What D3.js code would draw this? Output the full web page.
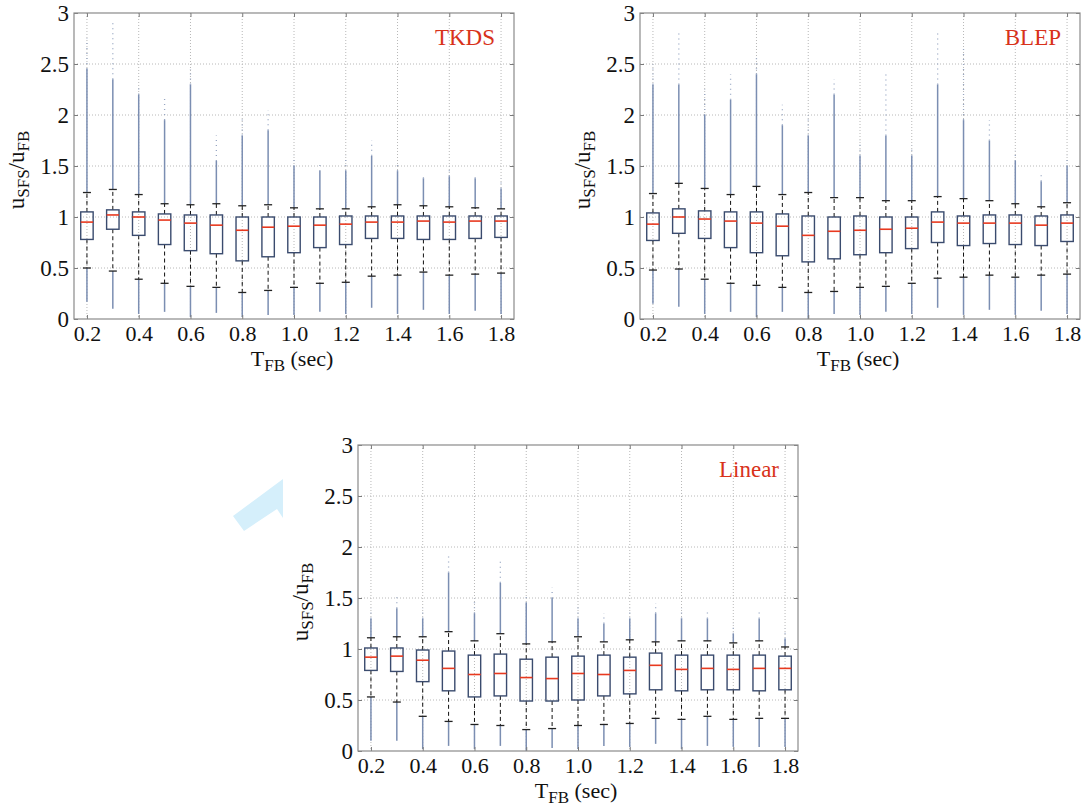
<html>
<head>
	<title>boxplots</title>
	<style>
		body { margin:0; padding:0; background:#fff; }
		svg { display:block; }
		svg text { font-family: "Liberation Serif", "Times New Roman", serif !important; fill:#111; }
		.tick line { stroke:#7a7a7a; }
		.grid line { stroke:#b8b8b8; stroke-width:1; stroke-dasharray:1,2; }
	</style>
</head>
<body>
	<svg width="1088" height="809"></svg>

	<script src="https://d3js.org/d3.v7.min.js"></script>
	<script>

		var categories = ["0.2","0.3","0.4","0.5","0.6","0.7","0.8","0.9","1.0","1.1","1.2","1.3","1.4","1.5","1.6","1.7","1.8"];
		var tickLabels = ["0.2","0.4","0.6","0.8","1.0","1.2","1.4","1.6","1.8"];
		var yTicks = [0, 0.5, 1, 1.5, 2, 2.5, 3];

		// TKDS
		var tkdsQ1  = [0.78,0.88,0.82,0.73,0.67,0.64,0.57,0.61,0.65,0.70,0.73,0.79,0.79,0.78,0.78,0.79,0.80];
		var tkdsMed = [0.95,1.02,1.00,0.97,0.94,0.92,0.87,0.90,0.91,0.92,0.93,0.95,0.95,0.96,0.95,0.96,0.96];
		var tkdsQ3  = [1.05,1.07,1.05,1.03,1.02,1.02,1.00,1.00,1.00,1.00,1.01,1.01,1.01,1.01,1.01,1.01,1.01];
		var tkdsLo  = [0.50,0.47,0.39,0.35,0.32,0.31,0.26,0.28,0.31,0.35,0.36,0.42,0.43,0.46,0.43,0.44,0.45];
		var tkdsHi  = [1.24,1.27,1.22,1.13,1.12,1.13,1.11,1.12,1.09,1.08,1.08,1.10,1.12,1.11,1.10,1.09,1.08];
		var tkdsMin = [0.17,0.10,0.05,0.07,0.02,0.06,0.02,0.04,0.04,0.07,0.05,0.11,0.05,0.09,0.05,0.08,0.05];
		var tkdsDense = [2.45,2.35,2.20,1.95,2.30,1.55,1.80,1.85,1.50,1.45,1.45,1.60,1.45,1.38,1.40,1.38,1.28];
		var tkdsMax = [2.75,2.90,2.27,2.16,2.45,1.80,1.97,2.05,1.60,1.55,1.60,1.75,1.55,1.43,1.50,1.43,1.38];

		// BLEP
		var blepQ1  = [0.77,0.84,0.79,0.70,0.65,0.62,0.56,0.59,0.63,0.65,0.69,0.75,0.72,0.74,0.73,0.72,0.76];
		var blepMed = [0.93,1.00,0.98,0.96,0.94,0.91,0.82,0.86,0.87,0.88,0.89,0.95,0.94,0.94,0.94,0.92,0.94];
		var blepQ3  = [1.04,1.08,1.06,1.05,1.05,1.03,1.01,1.00,1.01,1.00,1.00,1.05,1.01,1.02,1.02,1.01,1.02];
		var blepLo  = [0.48,0.49,0.39,0.35,0.33,0.31,0.26,0.27,0.31,0.32,0.35,0.40,0.41,0.43,0.41,0.43,0.44];
		var blepHi  = [1.23,1.33,1.28,1.22,1.30,1.22,1.24,1.19,1.19,1.16,1.16,1.20,1.18,1.16,1.13,1.10,1.14];
		var blepMin = [0.15,0.12,0.05,0.07,0.02,0.07,0.00,0.05,0.04,0.07,0.05,0.11,0.04,0.09,0.04,0.08,0.05];
		var blepDense = [2.30,2.30,2.00,2.15,2.40,1.90,1.80,2.20,1.60,1.80,1.60,2.30,1.95,1.75,1.55,1.35,1.50];
		var blepMax = [2.50,2.80,2.25,2.40,2.58,2.10,2.00,2.35,1.75,2.40,1.70,2.82,2.65,1.95,1.65,1.43,1.60];

		// Linear
		var linQ1  = [0.79,0.78,0.68,0.59,0.53,0.54,0.49,0.49,0.50,0.54,0.56,0.60,0.59,0.60,0.60,0.59,0.60];
		var linMed = [0.92,0.93,0.89,0.81,0.75,0.76,0.72,0.71,0.76,0.75,0.79,0.84,0.80,0.81,0.80,0.81,0.81];
		var linQ3  = [1.01,1.01,0.99,0.98,0.94,0.95,0.90,0.92,0.93,0.94,0.92,0.96,0.94,0.94,0.94,0.94,0.93];
		var linLo  = [0.53,0.48,0.34,0.29,0.26,0.25,0.21,0.22,0.25,0.26,0.27,0.32,0.31,0.34,0.31,0.32,0.32];
		var linHi  = [1.11,1.12,1.12,1.17,1.08,1.15,1.05,1.07,1.12,1.07,1.09,1.07,1.08,1.08,1.06,1.08,1.02];
		var linMin = [0.10,0.10,0.02,0.05,0.02,0.05,0.00,0.03,0.02,0.05,0.04,0.07,0.02,0.05,0.04,0.04,0.04];
		var linDense = [1.30,1.40,1.30,1.75,1.35,1.65,1.45,1.50,1.30,1.25,1.30,1.35,1.30,1.30,1.15,1.30,1.10];
		var linMax = [1.40,1.52,1.40,1.93,1.50,1.88,1.55,1.60,1.42,1.35,1.40,1.45,1.40,1.38,1.25,1.38,1.20];

		var panels = [
			{ name:"TKDS", left:74, top:13, q1:tkdsQ1, med:tkdsMed, q3:tkdsQ3, lo:tkdsLo, hi:tkdsHi, min:tkdsMin, dense:tkdsDense, max:tkdsMax },
			{ name:"BLEP", left:640, top:13, q1:blepQ1, med:blepMed, q3:blepQ3, lo:blepLo, hi:blepHi, min:blepMin, dense:blepDense, max:blepMax },
			{ name:"Linear", left:358, top:445, q1:linQ1, med:linMed, q3:linQ3, lo:linLo, hi:linHi, min:linMin, dense:linDense, max:linMax }
		];

		var W = 440, H = 306;
		var svg = d3.select("svg");

		// light blue arrow decoration
		svg.append("polygon")
			.attr("points", "233,516 283,479 283,518 277,509 244,531")
			.style("fill", "#d5effb");

		panels.forEach(drawPanel);

		function drawPanel(p) {
			var g = svg.append("g").attr("transform", "translate(" + p.left + "," + p.top + ")");

			var x = d3.scalePoint().domain(categories).range([0, W]).padding(0.5);
			var y = d3.scaleLinear().domain([0, 3]).range([H, 0]);

			// grid
			var grid = g.append("g").attr("class", "grid");
			grid.selectAll(".gy").data(yTicks.slice(1, -1)).enter().append("line")
				.attr("x1", 0).attr("x2", W)
				.attr("y1", function(d){ return y(d); }).attr("y2", function(d){ return y(d); });
			grid.selectAll(".gx").data(tickLabels).enter().append("line")
				.attr("y1", 0).attr("y2", H)
				.attr("x1", function(d){ return x(d); }).attr("x2", function(d){ return x(d); });

			var idx = d3.range(categories.length);
			var bw = x.step() * 0.48;
			var cap = x.step() * 0.31;

			// outliers: dense run and sparse tail
			g.selectAll(".ohi").data(idx).enter().append("line")
				.attr("x1", function(i){ return x(categories[i]); }).attr("x2", function(i){ return x(categories[i]); })
				.attr("y1", function(i){ return y(p.hi[i]); }).attr("y2", function(i){ return y(p.dense[i]); })
				.style("stroke", "#7b8eb2").style("stroke-width", 1.5);
			g.selectAll(".osp").data(idx).enter().append("line")
				.attr("x1", function(i){ return x(categories[i]); }).attr("x2", function(i){ return x(categories[i]); })
				.attr("y1", function(i){ return y(p.dense[i]); }).attr("y2", function(i){ return y(p.max[i]); })
				.style("stroke", "#97a6c2").style("stroke-width", 1.3).style("stroke-dasharray", "1,4");
			g.selectAll(".olo").data(idx).enter().append("line")
				.attr("x1", function(i){ return x(categories[i]); }).attr("x2", function(i){ return x(categories[i]); })
				.attr("y1", function(i){ return y(p.lo[i]); }).attr("y2", function(i){ return y(p.min[i]); })
				.style("stroke", "#7b8eb2").style("stroke-width", 1.5);

			// whiskers
			g.selectAll(".wu").data(idx).enter().append("line")
				.attr("x1", function(i){ return x(categories[i]); }).attr("x2", function(i){ return x(categories[i]); })
				.attr("y1", function(i){ return y(p.q3[i]); }).attr("y2", function(i){ return y(p.hi[i]); })
				.style("stroke", "#111").style("stroke-dasharray", "4,3");
			g.selectAll(".wl").data(idx).enter().append("line")
				.attr("x1", function(i){ return x(categories[i]); }).attr("x2", function(i){ return x(categories[i]); })
				.attr("y1", function(i){ return y(p.q1[i]); }).attr("y2", function(i){ return y(p.lo[i]); })
				.style("stroke", "#111").style("stroke-dasharray", "4,3");

			// caps
			["hi", "lo"].forEach(function(k) {
				g.selectAll(".c" + k).data(idx).enter().append("line")
					.attr("x1", function(i){ return x(categories[i]) - cap / 2; })
					.attr("x2", function(i){ return x(categories[i]) + cap / 2; })
					.attr("y1", function(i){ return y(p[k][i]); }).attr("y2", function(i){ return y(p[k][i]); })
					.style("stroke", "#222").style("stroke-width", 1.3);
			});

			// boxes
			g.selectAll(".box").data(idx).enter().append("rect")
				.attr("x", function(i){ return x(categories[i]) - bw / 2; })
				.attr("y", function(i){ return y(p.q3[i]); })
				.attr("width", bw)
				.attr("height", function(i){ return y(p.q1[i]) - y(p.q3[i]); })
				.style("fill", "none").style("stroke", "#3a4b6e").style("stroke-width", 1.4);

			// medians
			g.selectAll(".med").data(idx).enter().append("line")
				.attr("x1", function(i){ return x(categories[i]) - bw / 2; })
				.attr("x2", function(i){ return x(categories[i]) + bw / 2; })
				.attr("y1", function(i){ return y(p.med[i]); }).attr("y2", function(i){ return y(p.med[i]); })
				.style("stroke", "#e8391f").style("stroke-width", 1.6);

			// axes
			var fmt = function(d){ return String(d); };
			g.append("g").attr("transform", "translate(0," + H + ")")
				.call(d3.axisBottom(x).tickValues(tickLabels).tickSizeInner(-4).tickSizeOuter(0).tickPadding(0))
				.call(function(a){
					a.select(".domain").remove();
					a.selectAll("text").attr("y", 22).attr("dy", null).style("font-size", "22px").style("fill", "#111");
				});
			g.append("g")
				.call(d3.axisTop(x).tickValues(tickLabels).tickSizeInner(-4).tickSizeOuter(0).tickFormat(""))
				.call(function(a){ a.select(".domain").remove(); });
			g.append("g")
				.call(d3.axisLeft(y).tickValues(yTicks).tickFormat(fmt).tickSizeInner(-4).tickSizeOuter(0).tickPadding(5))
				.call(function(a){ a.select(".domain").remove(); a.selectAll("text").style("font-size", "23px").style("fill", "#111"); });
			g.append("g").attr("transform", "translate(" + W + ",0)")
				.call(d3.axisRight(y).tickValues(yTicks).tickFormat("").tickSizeInner(-4).tickSizeOuter(0))
				.call(function(a){ a.select(".domain").remove(); });

			g.append("rect").attr("width", W).attr("height", H)
				.style("fill", "none").style("stroke", "#8a8a8a").style("stroke-width", 1.2);

			// panel name
			g.append("text")
				.attr("x", W - 19).attr("y", 32)
				.attr("text-anchor", "end")
				.style("font-size", "23px").style("fill", "#d8321a")
				.text(p.name);

			// x title
			var xt = g.append("text")
				.attr("x", W / 2 - 2).attr("y", H + 47)
				.attr("text-anchor", "middle")
				.style("font-size", "22px");
			xt.append("tspan").text("T");
			xt.append("tspan").attr("dy", 5).style("font-size", "17px").text("FB");
			xt.append("tspan").attr("dy", -5).text(" (sec)");

			// y title
			var yt = g.append("text")
				.attr("transform", "translate(-50," + (H / 2 + 4) + ") rotate(-90)")
				.attr("text-anchor", "middle")
				.style("font-size", "23px");
			yt.append("tspan").text("u");
			yt.append("tspan").attr("dy", 5).style("font-size", "17px").text("SFS");
			yt.append("tspan").attr("dy", -5).text("/u");
			yt.append("tspan").attr("dy", 5).style("font-size", "17px").text("FB");
		}
	</script>
</body>
</html>
